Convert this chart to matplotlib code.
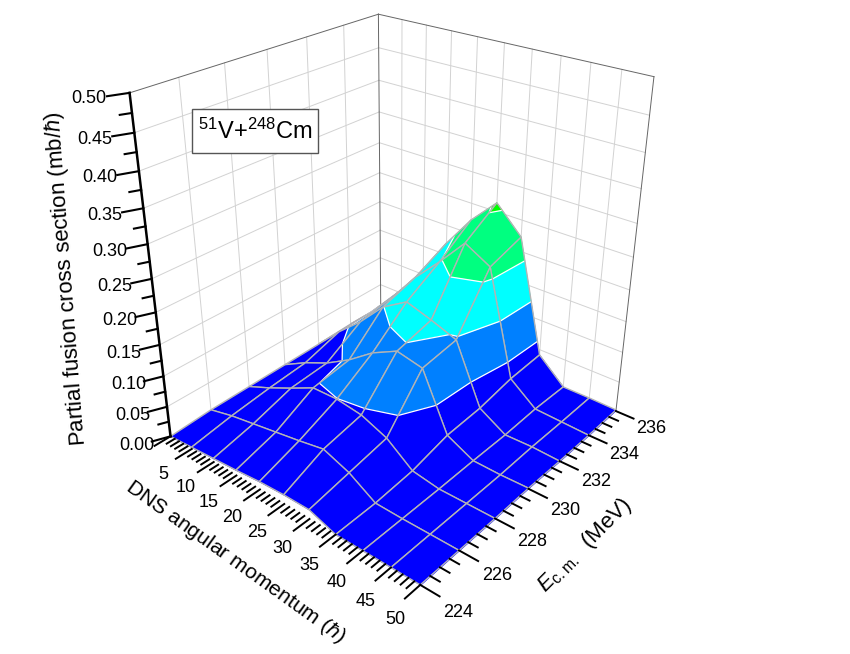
import numpy as np
import matplotlib
matplotlib.use('Agg')
import matplotlib.pyplot as plt
from matplotlib.patches import Rectangle
from mpl_toolkits.mplot3d import proj3d
from mpl_toolkits.mplot3d.art3d import Poly3DCollection, Line3DCollection

plt.rcParams['font.family'] = ['Liberation Sans', 'DejaVu Sans']
plt.rcParams['mathtext.fontset'] = 'custom'
plt.rcParams['mathtext.rm'] = 'Liberation Sans'
plt.rcParams['mathtext.it'] = 'Liberation Sans:italic'
plt.rcParams['mathtext.default'] = 'regular'

ang_mom = [0, 5, 10, 15, 20, 25, 30, 35, 40, 45, 50]
energy = [224, 226, 228, 230, 232, 234, 236]

sigma_224 = [0.000, 0.003, 0.006, 0.009, 0.013, 0.015, 0.015, 0.000, 0.000, 0.000, 0.000]
sigma_226 = [0.004, 0.014, 0.021, 0.028, 0.035, 0.043, 0.027, 0.001, 0.000, 0.000, 0.000]
sigma_228 = [0.005, 0.022, 0.041, 0.061, 0.062, 0.056, 0.039, 0.007, 0.000, 0.000, 0.000]
sigma_230 = [0.006, 0.028, 0.046, 0.070, 0.100, 0.121, 0.112, 0.022, 0.001, 0.000, 0.001]
sigma_232 = [0.007, 0.047, 0.082, 0.124, 0.149, 0.136, 0.121, 0.026, 0.001, 0.002, 0.000]
sigma_234 = [0.009, 0.048, 0.092, 0.142, 0.183, 0.228, 0.205, 0.037, 0.004, 0.002, 0.000]
sigma_236 = [0.008, 0.056, 0.103, 0.170, 0.223, 0.264, 0.223, 0.041, 0.003, 0.003, 0.002]
sigma = np.array([sigma_224, sigma_226, sigma_228, sigma_230, sigma_232, sigma_234, sigma_236])

levels = [0, 0.0625, 0.125, 0.1875, 0.255, 0.3125]
band_colors = ['#0000ff', '#0080ff', '#00ffff', '#00ff80', '#00ff00']

z_ticks = np.arange(0, 0.501, 0.05)
z_labels = ['%.2f' % t for t in z_ticks]
grid_c = '#d2d2d2'
mesh_c = '#b4b4b4'


def px(x, y):
    return x / 850, 1 - y / 654


def clip_band(poly, lo, hi):
    # Sutherland-Hodgman on the z value only
    for bound, sign in ((lo, 1), (hi, -1)):
        out = []
        for a, b in zip(poly, poly[1:] + poly[:1]):
            da, db = sign * (a[2] - bound), sign * (b[2] - bound)
            if da >= 0:
                out.append(a)
            if da * db < 0:
                t = da / (da - db)
                out.append(tuple(a[k] + t * (b[k] - a[k]) for k in range(3)))
        poly = out
        if not poly:
            return []
    return poly


def level_segments(poly, lev):
    cuts = []
    for a, b in zip(poly, poly[1:] + poly[:1]):
        da, db = a[2] - lev, b[2] - lev
        if da * db < 0:
            t = da / (da - db)
            cuts.append(tuple(a[k] + t * (b[k] - a[k]) for k in range(3)))
    return [cuts[:2]] if len(cuts) >= 2 else []


fig = plt.figure(figsize=(8.5, 6.54), dpi=100)
ax = fig.add_axes([89.86 / 850, 79.03 / 654, 598.1 / 850, 598.1 / 654], projection='3d')
ax.set_xlim(0, 50, view_margin=0)
ax.set_ylim(224, 236, view_margin=0)
ax.set_zlim(0, 0.5, view_margin=0)
ax.view_init(elev=28.10, azim=-50.17)
ax.set_proj_type('persp', focal_length=0.3415)
ax.set_box_aspect((1, 1.0094, 1.1211))
ax.set_xticks([])
ax.set_yticks([])
ax.set_zticks([])
ax.set_axis_off()
ax.computed_zorder = False
ax.patch.set_alpha(0)


def label3d(x, y, z, s, zorder):
    # plain 2D text at the projected spot
    x2, y2, _ = proj3d.proj_transform(x, y, z, ax.get_proj())
    ax.text2D(x2, y2, s, transform=ax.transData, ha='center', va='center', fontsize=13, zorder=zorder)


# walls
for t in z_ticks[1:-1]:
    ax.plot([0, 0], [224, 236], [t, t], color=grid_c, lw=0.7, zorder=1, clip_on=False)
    ax.plot([0, 50], [236, 236], [t, t], color=grid_c, lw=0.7, zorder=1, clip_on=False)
for e in energy[1:-1]:
    ax.plot([0, 0], [e, e], [0, 0.5], color=grid_c, lw=0.7, zorder=1, clip_on=False)
for a in ang_mom[1:-1]:
    ax.plot([a, a], [236, 236], [0, 0.5], color=grid_c, lw=0.7, zorder=1, clip_on=False)
frame = [([0, 0], [224, 236], [0.5, 0.5]), ([0, 50], [236, 236], [0.5, 0.5]),
         ([0, 0], [236, 236], [0, 0.5]), ([50, 50], [236, 236], [0, 0.5])]
for fx, fy, fz in frame:
    ax.plot(fx, fy, fz, color='#666666', lw=0.7, zorder=2, clip_on=False)

# surface, back to front
order = 10
for i in range(len(ang_mom) - 1):
    for j in range(len(energy) - 2, -1, -1):
        cell = [(ang_mom[i], energy[j], sigma[j, i]), (ang_mom[i + 1], energy[j], sigma[j, i + 1]),
                (ang_mom[i + 1], energy[j + 1], sigma[j + 1, i + 1]), (ang_mom[i], energy[j + 1], sigma[j + 1, i])]
        polys, cols = [], []
        for b in range(len(band_colors)):
            clipped = clip_band(cell, levels[b], levels[b + 1])
            if len(clipped) >= 3:
                polys.append(clipped)
                cols.append(band_colors[b])
        ax.add_collection3d(Poly3DCollection(polys, facecolors=cols, edgecolors=cols, linewidths=0.4,
                                             zorder=order, clip_on=False))
        segs = []
        for lev in levels[1:-1]:
            segs += level_segments(cell, lev)
        if segs:
            ax.add_collection3d(Line3DCollection(segs, colors='white', linewidths=0.9, zorder=order + 1, clip_on=False))
        outline = [[cell[k], cell[(k + 1) % 4]] for k in range(4)]
        ax.add_collection3d(Line3DCollection(outline, colors=mesh_c, linewidths=1.0, zorder=order + 2, clip_on=False))
        order += 3

# axes
top = order + 10
ax.plot([0, 0], [224, 224], [0, 0.5], color='black', lw=1.8, zorder=top, clip_on=False)
for t in np.arange(0, 0.5001, 0.025):
    major = round(t / 0.05, 3) % 1 == 0
    s = 1 if major else 0.55
    ax.plot([0, -1.2 * s], [224, 224 - 0.65 * s], [t, t], color='black', lw=1.5, zorder=top, clip_on=False)
for t, lab in zip(z_ticks, z_labels):
    label3d(-2.2, 222.85, t, lab, top)

for a in range(0, 51):
    major = a % 5 == 0
    s = 0.75 if major else 0.38
    ax.plot([a, a], [224, 224 - s], [0, 0], color='black', lw=1.4, zorder=top, clip_on=False)
for a in ang_mom[1:]:
    label3d(a + 1.4, 222.4, 0, str(a), top)

for e in np.arange(224, 236.01, 0.5):
    major = e % 2 == 0
    s = 3.2 if major else 1.6
    ax.plot([50, 50 + s], [e, e], [0, 0], color='black', lw=1.4, zorder=top, clip_on=False)
for e in energy:
    label3d(56.7, e - 0.15, 0, str(e), top)

x, y = px(67, 279)
fig.text(x, y, r'Partial fusion cross section (mb/$\mathit{\hbar}$)', rotation=94.4, rotation_mode='anchor',
         ha='center', va='center', fontsize=16)
x, y = px(235, 562)
fig.text(x, y, r'DNS angular momentum ($\mathit{\hbar}$)', rotation=-35.6, rotation_mode='anchor',
         ha='center', va='center', fontsize=15.2)
x, y = px(585, 545)
fig.text(x, y, r'$\mathit{E}_{c.m.}$  (MeV)', rotation=45, rotation_mode='anchor',
         ha='center', va='center', fontsize=16)

x, y = px(192, 153)
fig.add_artist(Rectangle((x, y), 126 / 850, 44 / 654, transform=fig.transFigure, facecolor='white',
                         edgecolor='#555555', lw=1, zorder=5))
x, y = px(255, 131)
fig.text(x, y, r'$^{51}$V+$^{248}$Cm', ha='center', va='center', fontsize=17, zorder=6)

fig.savefig('out.png', dpi=100)
